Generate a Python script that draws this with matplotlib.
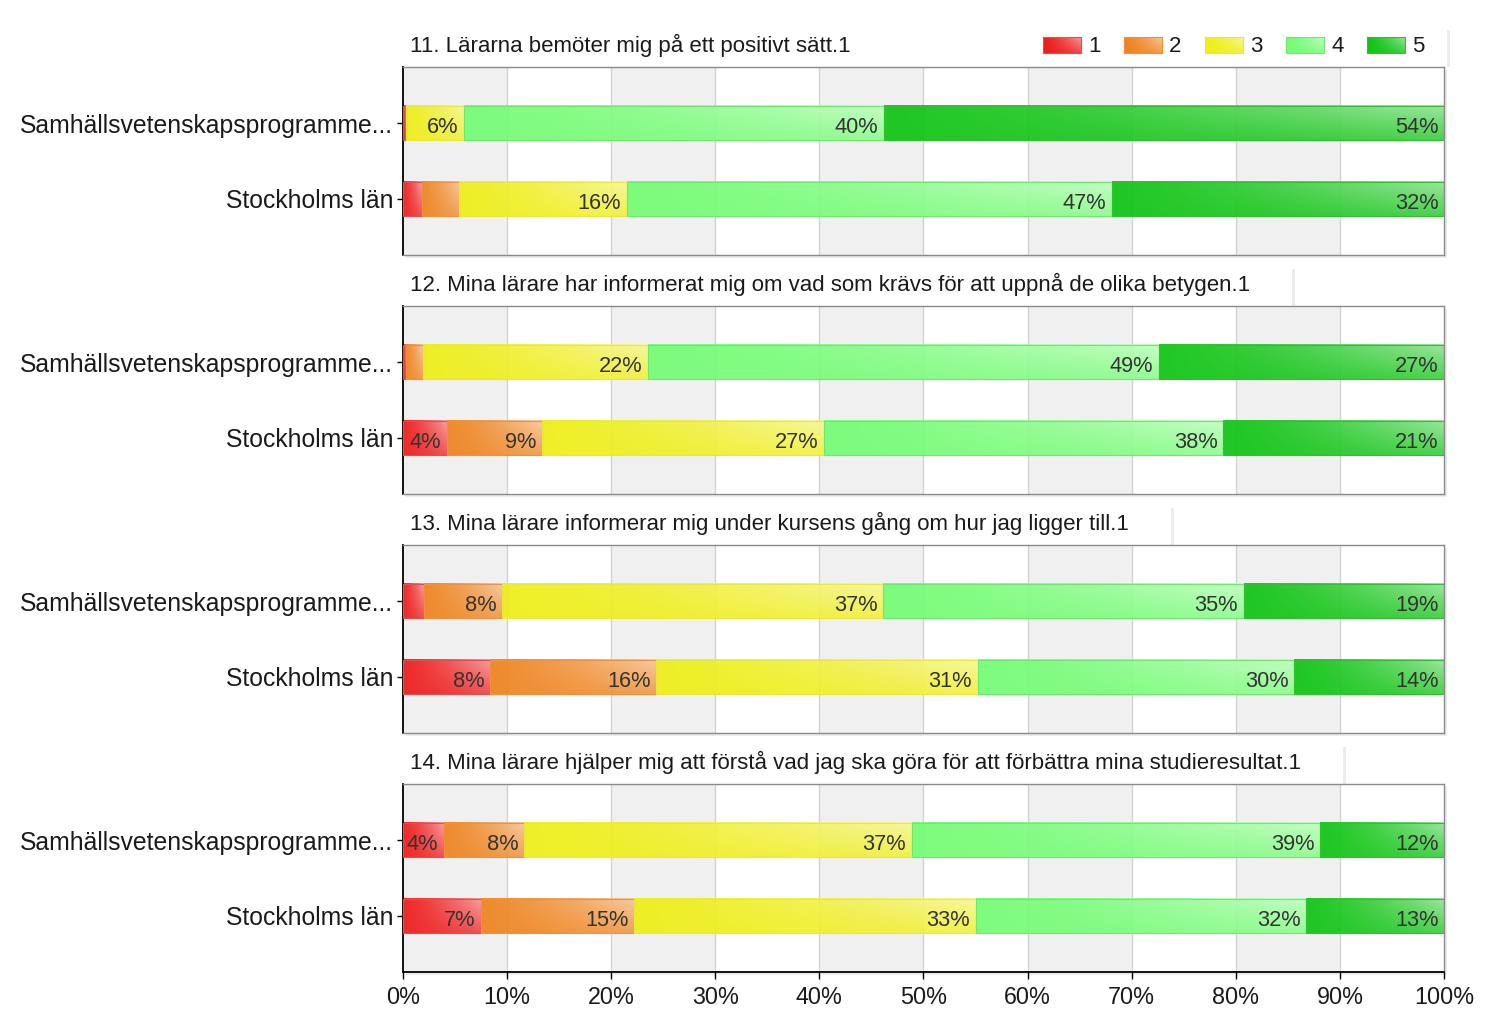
import numpy as np
import matplotlib
matplotlib.use("Agg")
import matplotlib.pyplot as plt
from matplotlib.colors import to_rgb
from matplotlib.patches import Rectangle

plt.rcParams['font.family'] = ['Liberation Sans', 'DejaVu Sans']

# data (andel i procent per svarsalternativ 1-5)
levels = ['1', '2', '3', '4', '5']
groups = ['Samhällsvetenskapsprogramme...', 'Stockholms län']
questions = [
    '11. Lärarna bemöter mig på ett positivt sätt.1',
    '12. Mina lärare har informerat mig om vad som krävs för att uppnå de olika betygen.1',
    '13. Mina lärare informerar mig under kursens gång om hur jag ligger till.1',
    '14. Mina lärare hjälper mig att förstå vad jag ska göra för att förbättra mina studieresultat.1',
]
q11_samh = [0.3, 0.0, 5.6, 40.3, 53.8]
q11_sthlm = [1.82, 3.58, 16.1, 46.6, 31.9]
q12_samh = [0.3, 1.6, 21.6, 49.1, 27.4]
q12_sthlm = [4.2, 9.15, 27.05, 38.4, 21.2]
q13_samh = [2.0, 7.55, 36.6, 34.6, 19.25]
q13_sthlm = [8.4, 15.9, 30.9, 30.4, 14.4]
q14_samh = [3.93, 7.74, 37.2, 39.2, 11.93]
q14_sthlm = [7.45, 14.75, 32.8, 31.75, 13.25]

panels = [
    (q11_samh, q11_sthlm),
    (q12_samh, q12_sthlm),
    (q13_samh, q13_sthlm),
    (q14_samh, q14_sthlm),
]
colors = ['#ee1c1c', '#ee8420', '#eeee18', '#74fc74', '#10c414']
edge_colors = ['#e05050', '#f09040', '#e8e840', '#70e870', '#30c030']

W, H = 1500, 1025
fig = plt.figure(figsize=(W / 100, H / 100), dpi=100)
fig.patch.set_facecolor('white')


def frac_rect(x0, y0, w, h):
    # pixel box (top-left origin) -> figure fraction
    return [x0 / W, 1 - (y0 + h) / H, w / W, h / H]


def gloss(color, nx=60, ny=20):
    base = np.array(to_rgb(color))
    X, Y = np.meshgrid(np.linspace(0, 1, nx), np.linspace(0, 1, ny))
    w = 0.55 * X ** 1.4 * (1 - 0.65 * Y)
    w = w[..., None]
    return base * (1 - w) + w


ax_left, ax_w, ax_h = 403, 1041, 188
tops = [67, 306, 545, 784]
bar_h = 0.46

for i, (top, q, vals) in enumerate(zip(tops, questions, panels)):
    # skugga bakom diagrammet
    r = frac_rect(ax_left + 3, top + 3, ax_w, ax_h)
    fig.patches.append(Rectangle((r[0], r[1]), r[2], r[3], transform=fig.transFigure,
                                 facecolor='#ececec', edgecolor='none', zorder=-1))
    ax = fig.add_axes(frac_rect(ax_left, top, ax_w, ax_h))
    ax.set_zorder(1)
    ax.set_facecolor('white')

    for k in range(0, 100, 20):
        ax.axvspan(k, k + 10, color='#f0f0f0', zorder=0, lw=0)
    for k in range(10, 100, 10):
        ax.axvline(k, color='#d2d2d2', lw=1, zorder=1)

    for row, v in enumerate(vals):
        left = 0
        for j, val in enumerate(v):
            if val <= 0:
                continue
            right = left + val
            ax.imshow(gloss(colors[j]), extent=[left, right, row + bar_h / 2, row - bar_h / 2],
                      aspect='auto', interpolation='bilinear', alpha=0.93, zorder=2)
            ax.add_patch(Rectangle((left, row - bar_h / 2), val, bar_h, fill=False,
                                   edgecolor=edge_colors[j], lw=0.8, zorder=3))
            if val >= 3.75:
                ax.annotate(f'{int(val + 0.5)}%', (right, row), xytext=(-4, -3.5),
                            textcoords='offset points', ha='right', va='center',
                            fontsize=15.7, color='#333333', zorder=4)
            left = right

    ax.set_xlim(0, 100)
    ax.set_ylim(1.737, -0.737)
    ax.set_yticks([0, 1])
    ax.set_yticklabels(groups, fontsize=17.8, color='#1a1a1a')
    ax.tick_params(axis='y', length=4, width=1, pad=3, color='#000000')
    for s in ['top', 'right', 'bottom']:
        ax.spines[s].set_color('#8a8a8a')
        ax.spines[s].set_linewidth(1)
    ax.spines['left'].set_color('#000000')
    ax.spines['left'].set_linewidth(1.3)
    if i == len(tops) - 1:
        ax.set_xticks(np.arange(0, 101, 10))
        ax.set_xticklabels([f'{t}%' for t in range(0, 101, 10)], fontsize=16.8, color='#1a1a1a')
        ax.tick_params(axis='x', length=5, width=1, pad=5, color='#000000')
        ax.spines['bottom'].set_color('#000000')
        ax.spines['bottom'].set_linewidth(1.3)
    else:
        ax.set_xticks([])

    # rubrik
    t = fig.text(410 / W, 1 - (top - 22) / H, q, fontsize=16, color='#1a1a1a',
                 ha='left', va='center', zorder=5)
    fig.canvas.draw()
    bb = t.get_window_extent()
    right_px = 1447 if i == 0 else bb.x1 + 42
    box_top = top - 37
    fig.patches.append(Rectangle((right_px / W, 1 - top / H), 3 / W, (top - box_top) / H,
                                 transform=fig.transFigure, facecolor='#ececec',
                                 edgecolor='none', zorder=-1))

# legend
for j, lab in enumerate(levels):
    x0 = 1043 + j * 81
    lax = fig.add_axes(frac_rect(x0, 37, 38, 16))
    lax.imshow(gloss(colors[j]), aspect='auto', interpolation='bilinear',
               extent=[0, 1, 0, 1])
    lax.set_xlim(0, 1)
    lax.set_ylim(0, 1)
    lax.set_xticks([])
    lax.set_yticks([])
    for s in lax.spines.values():
        s.set_color(edge_colors[j])
        s.set_linewidth(0.8)
    fig.text((x0 + 45) / W, 1 - 46 / H, lab, fontsize=16, color='#1a1a1a',
             ha='left', va='center')

fig.savefig('out.png', dpi=100)
